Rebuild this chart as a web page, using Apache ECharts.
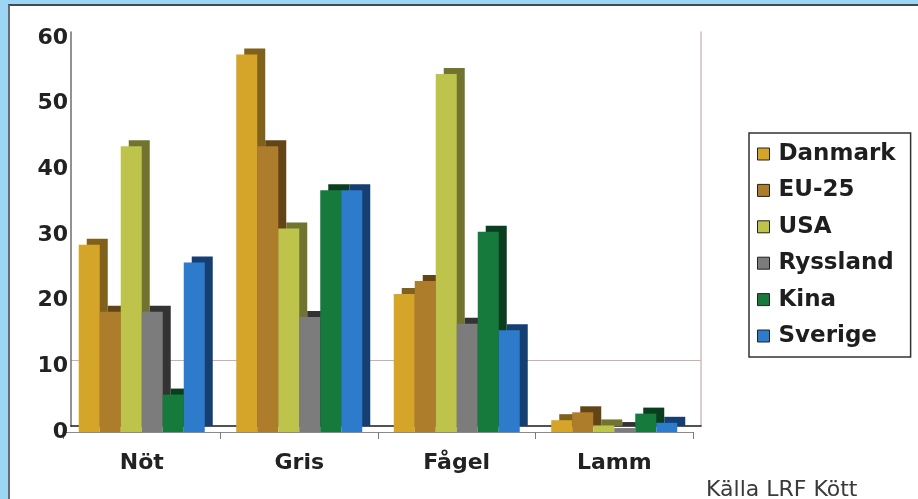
<!DOCTYPE html>
<html>
<head>
<meta charset="utf-8">
<script src="https://cdn.jsdelivr.net/npm/echarts@6/dist/echarts.min.js"></script>
<style>
html,body{margin:0;padding:0;width:918px;height:499px;overflow:hidden;background:#9cd6f4;}
#panel{position:absolute;left:8px;top:4px;width:910px;height:495px;background:#fff;border-top:2px solid #4a4a4a;border-left:2px solid #6a6a6a;box-sizing:border-box;}
#c{position:absolute;left:0;top:0;width:918px;height:499px;}
</style>
</head>
<body>
<div id="panel"></div>
<div id="c"></div>
<script>
const categories = ['Nöt', 'Gris', 'Fågel', 'Lamm'];
const seriesNames = ['Danmark', 'EU-25', 'USA', 'Ryssland', 'Kina', 'Sverige'];
const danmark  = [28.5, 57.5, 21.0, 1.8];
const eu25     = [18.3, 43.5, 23.0, 3.0];
const usa      = [43.5, 31.0, 54.5, 1.0];
const ryssland = [18.3, 17.5, 16.5, 0.6];
const kina     = [5.7, 36.8, 30.5, 2.8];
const sverige  = [25.8, 36.8, 15.5, 1.4];
const yTicks = [0, 10, 20, 30, 40, 50, 60];

const values = [danmark, eu25, usa, ryssland, kina, sverige];
const faceColors = ['#d5a52a', '#ae7d2c', '#bec34c', '#7c7c7c', '#167a3c', '#2e7bcb'];
const sideColors = ['#7f611b', '#634417', '#70742f', '#333333', '#093f1e', '#143f70'];

const FONT = 'DejaVu Sans';
const chart = echarts.init(document.getElementById('c'), null, {renderer: 'canvas'});

const series = values.map((v, i) => ({
  name: seriesNames[i],
  type: 'bar',
  xAxisIndex: 0,
  yAxisIndex: 0,
  data: v,
  barWidth: 21,
  barGap: '0%',
  clip: false,
  z: 5,
  itemStyle: {
    color: faceColors[i],
    borderWidth: 0,
    shadowColor: sideColors[i],
    shadowBlur: 0,
    shadowOffsetX: 8,
    shadowOffsetY: -6
  },
  emphasis: {disabled: true}
}));

const gridLineColors = yTicks.map(t => t === 10 ? '#c8b0b0' : 'rgba(0,0,0,0)');

chart.setOption({
  animation: false,
  backgroundColor: 'transparent',
  title: {
    text: 'Källa LRF Kött',
    left: 701,
    top: 474,
    textStyle: {fontFamily: FONT, fontSize: 22, fontWeight: 'normal', color: '#3a3a3a'}
  },
  legend: {
    orient: 'vertical',
    left: 749,
    top: 133,
    padding: [8, 15, 8, 8],
    itemGap: 10.4,
    itemWidth: 12,
    itemHeight: 12,
    icon: 'rect',
    borderColor: '#333',
    borderWidth: 1.5,
    data: seriesNames,
    itemStyle: {borderColor: '#222', borderWidth: 1, shadowBlur: 0, shadowOffsetX: 0, shadowOffsetY: 0, shadowColor: 'rgba(0,0,0,0)'},
    textStyle: {fontFamily: FONT, fontSize: 23, fontWeight: 'bold', color: '#1e1e1e', lineHeight: 26, padding: [0, 0, 0, 4]},
    selectedMode: false
  },
  grid: [
    {left: 63, right: 225, top: 38, bottom: 67},
    {left: 71, right: 217, top: 32, bottom: 73}
  ],
  xAxis: [
    {
      type: 'category', gridIndex: 0, data: categories,
      axisLine: {show: true, lineStyle: {color: '#8a8a8a', width: 1}},
      axisTick: {show: true, length: 7, lineStyle: {color: '#7a7a7a'}},
      axisLabel: {fontFamily: FONT, fontSize: 22, fontWeight: 'bold', color: '#222', margin: 20},
      splitLine: {show: false}
    },
    {
      type: 'category', gridIndex: 1, data: categories,
      axisLine: {show: true, lineStyle: {color: '#1a1a1a', width: 1.5}},
      axisTick: {show: false},
      axisLabel: {show: false},
      splitLine: {show: false}
    }
  ],
  yAxis: [
    {
      type: 'value', gridIndex: 0, min: 0, max: 60, interval: 10,
      axisLine: {show: false},
      axisTick: {show: false},
      splitLine: {show: false},
      axisLabel: {fontFamily: FONT, fontSize: 22, fontWeight: 'bold', color: '#222', margin: -5}
    },
    {
      type: 'value', gridIndex: 1, min: 0, max: 60, interval: 10, position: 'left',
      axisLine: {show: true, lineStyle: {color: '#6e6e6e', width: 1.5}},
      axisTick: {show: false},
      axisLabel: {show: false},
      splitLine: {show: true, lineStyle: {color: gridLineColors, width: 1}}
    },
    {
      type: 'value', gridIndex: 1, min: 0, max: 60, interval: 10, position: 'right',
      axisLine: {show: true, lineStyle: {color: '#cdbcbc', width: 1.5}},
      axisTick: {show: false},
      axisLabel: {show: false},
      splitLine: {show: false}
    }
  ],
  series: series
});
</script>
</body>
</html>
